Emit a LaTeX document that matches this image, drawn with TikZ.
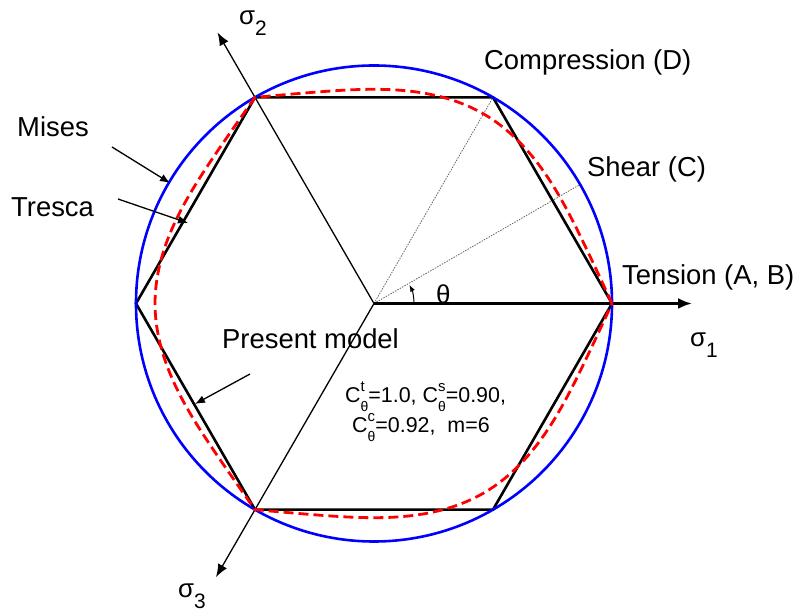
\documentclass[tikz,border=0pt]{standalone}
\usepackage{fontspec}
\setmainfont{Liberation Sans}
\usetikzlibrary{arrows.meta}
\newcommand\lbfont{\fontsize{27.5}{32}\selectfont}
\newcommand\frfont{\fontsize{21.5}{30}\selectfont}
\newcommand\Cq[1]{C\makebox[0pt][l]{\raisebox{11bp}{\fontsize{15}{15}\selectfont #1}}\raisebox{-9bp}{\fontsize{14}{14}\selectfont θ}}
\newcommand\sig[1]{{\fontsize{26}{30}\selectfont σ}\raisebox{-11bp}{\fontsize{21}{24}\selectfont #1}}
\tikzset{
  lbl/.style={font=\lbfont, inner sep=0pt, anchor=base west},
  thinaxis/.style={line width=1.3bp, -{Latex[length=13bp,width=10bp]}},
  mainaxis/.style={line width=2.6bp, -{Latex[length=14bp,width=11bp]}},
  ann/.style={line width=1.3bp, -{Latex[length=10bp,width=8bp]}},
  hexa/.style={line width=2.6bp, line join=miter},
  mises/.style={blue, line width=2.6bp},
  model/.style={red, line width=2.8bp, dash pattern=on 10bp off 5bp},
  guide/.style={black!60, line width=0.8bp, dash pattern=on 1.5bp off 1.2bp},
}
\begin{document}
\begin{tikzpicture}[x=1bp, y=1bp,
  declare function={fold(\t)=60-abs(mod(\t,120)-60);
                     rm(\u)=1-0.48*\u+0.72*\u*\u-0.32*\u*\u*\u;}]
\useasboundingbox (-374,-310.5) rectangle (424,303.5);
\coordinate (O) at (0,0);
\foreach \i in {0,...,5} {\coordinate (V\i) at (60*\i:238);}
\coordinate (E1) at (318,0);
\coordinate (E2) at (120:313);
\coordinate (E3) at (240:316);
\coordinate (S) at (30:238);
\coordinate (A0) at (40,0);
% axes and guides
\draw[thinaxis] (O) -- (E2);
\draw[thinaxis] (O) -- (E3);
\draw[guide] (O) -- (V1);
\draw[guide] (O) -- (S);
\draw[mainaxis] (O) -- (E1);
\draw[line width=1bp, -{Latex[length=7bp,width=5bp]}] (A0) arc[start angle=0, end angle=28, radius=40];
% criteria
\draw[hexa] (V0) -- (V1) -- (V2) -- (V3) -- (V4) -- (V5) -- cycle;
\draw[mises] (O) circle[radius=238];
\draw[model] plot[domain=0:360, samples=721] (\x:{238*rm(fold(\x)/60)}) -- cycle;
% labels
\node[font=\fontsize{26}{30}\selectfont, inner sep=0pt, anchor=base west] (th) at (62,0) {θ};
\node[lbl] (comp) at (110,233.5) {Compression (D)};
\node[lbl] (shear) at (213,126.5) {Shear (C)};
\node[lbl] (tens) at (248,18.5) {Tension (A, B)};
\node[lbl] (mises) at (-357,166.5) {Mises};
\node[lbl] (tresca) at (-363,86.5) {Tresca};
\node[lbl] (pm) at (-152,-45.5) {Present model};
\node[inner sep=0pt, anchor=base west] (s1) at (316,-43.5) {\sig{1}};
\node[inner sep=0pt, anchor=base west] (s2) at (-135,278.5) {\sig{2}};
\node[inner sep=0pt, anchor=base west] (s3) at (-196,-293.5) {\sig{3}};
\node[font=\frfont, inner sep=0pt, anchor=base west] (f1) at (-29,-99.5) {\Cq{t}=1.0, \Cq{s}=0.90,};
\node[font=\frfont, inner sep=0pt, anchor=base west] (f2) at (-22,-129.5) {\Cq{c}=0.92,\ \ m=6};
% annotation arrows
\coordinate (mA) at (-262,156.5);
\coordinate (mB) at (-204,120.5);
\coordinate (tA) at (-256,104.5);
\coordinate (tB) at (-186,80.5);
\coordinate (pA) at (-124,-70.5);
\coordinate (pB) at (-179,-100.5);
\draw[ann] (mA) -- (mB);
\draw[ann] (tA) -- (tB);
\draw[ann] (pA) -- (pB);
\end{tikzpicture}
\end{document}
